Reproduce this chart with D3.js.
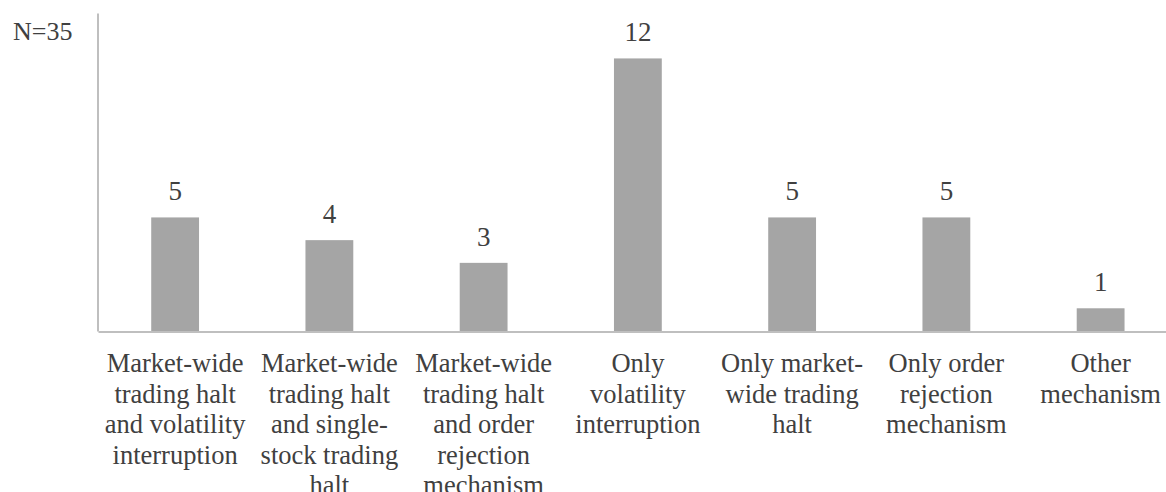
<!DOCTYPE html>
<html>
<head>
<meta charset="utf-8">
<script src="https://cdn.jsdelivr.net/npm/d3@7"></script>
<style>
  html, body { margin: 0; padding: 0; background: #fff; }
  svg { display: block; }
</style>
</head>
<body>
<svg id="chart" width="1166" height="492"></svg>
<script>
const categories = [
  "Market-wide\ntrading halt\nand volatility\ninterruption",
  "Market-wide\ntrading halt\nand single-\nstock trading\nhalt",
  "Market-wide\ntrading halt\nand order\nrejection\nmechanism",
  "Only\nvolatility\ninterruption",
  "Only market-\nwide trading\nhalt",
  "Only order\nrejection\nmechanism",
  "Other\nmechanism"
];
const values = [5, 4, 3, 12, 5, 5, 1];
const noteText = "N=35";

const FONT = "'Liberation Serif', 'Times New Roman', Times, serif";
const TXT = "#404040";

const svg = d3.select("#chart");
const x0 = 98, step = 154.25;
const x = d3.scaleBand()
  .domain(categories)
  .range([x0, x0 + step * categories.length])
  .paddingInner(0.69)
  .paddingOuter(0.345);
const y = d3.scaleLinear().domain([0, 14]).range([331, 13]);

// bars
svg.append("g").selectAll("rect")
  .data(values)
  .join("rect")
  .attr("x", (d, i) => x(categories[i]))
  .attr("width", x.bandwidth())
  .attr("y", d => y(d))
  .attr("height", d => y(0) - y(d))
  .attr("fill", "#A5A5A5");

// value labels
svg.append("g").selectAll("text")
  .data(values)
  .join("text")
  .attr("x", (d, i) => x(categories[i]) + x.bandwidth() / 2)
  .attr("y", d => y(d) - 17)
  .attr("text-anchor", "middle")
  .attr("font-family", FONT)
  .attr("font-size", 27)
  .attr("fill", TXT)
  .text(d => d);

// axes lines
const xAxis = svg.append("g").attr("transform", `translate(0,${y(0) + 0.5})`)
  .call(d3.axisBottom(x).tickSize(0).tickFormat(""));
xAxis.select(".domain").attr("stroke", "#BFBFBF").attr("stroke-width", 2);

const yAxis = svg.append("g").attr("transform", `translate(${x0 - 0.5},0)`)
  .call(d3.axisLeft(y).tickSize(0).tickValues([]));
yAxis.select(".domain").attr("stroke", "#BFBFBF").attr("stroke-width", 2);

// category labels
const lab = svg.append("g").selectAll("text")
  .data(categories)
  .join("text")
  .attr("text-anchor", "middle")
  .attr("font-family", FONT)
  .attr("font-size", 26.5)
  .attr("fill", TXT)
  .attr("transform", d => `translate(${x(d) + x.bandwidth() / 2},372)`);
lab.selectAll("tspan")
  .data(d => d.split("\n"))
  .join("tspan")
  .attr("x", 0)
  .attr("y", (d, i) => i * 30.5)
  .text(d => d);

// note
svg.append("text")
  .attr("x", 13)
  .attr("y", 40)
  .attr("font-family", FONT)
  .attr("font-size", 26)
  .attr("fill", TXT)
  .text(noteText);
</script>
</body>
</html>
